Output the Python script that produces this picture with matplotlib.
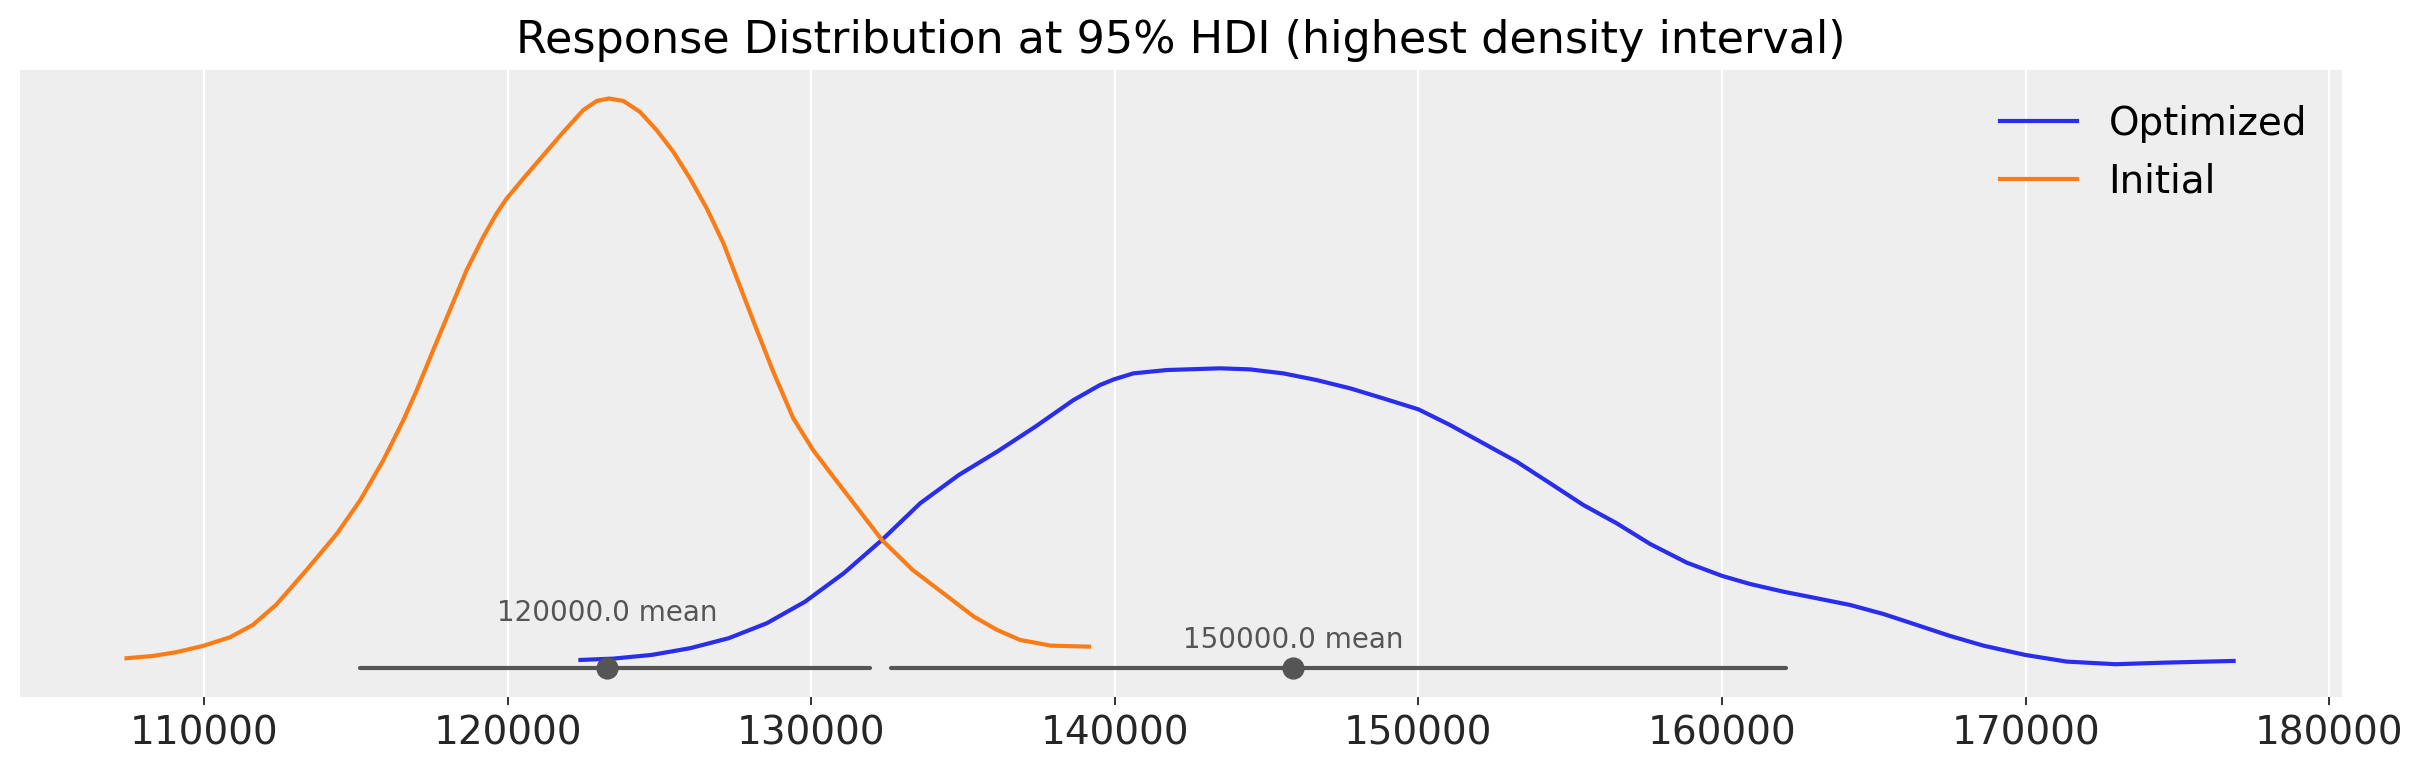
import numpy as np
import matplotlib
matplotlib.use("Agg")
import matplotlib.pyplot as plt

# density curves (x = response, y = density x1e-6)
optimized_x = [122400, 123490, 124750, 126010, 127280, 128540, 129800, 131070,
               132330, 133590, 134860, 136120, 137380, 138640, 139510, 139970,
               140610, 141710, 143470, 144450, 145550, 146650, 147750, 148840,
               150000, 151040, 152140, 153240, 154340, 155430, 156530, 157630,
               158840, 160010, 160920, 162020, 163120, 164220, 165310, 166410,
               167510, 168610, 169980, 171350, 172970, 174630, 176850]
optimized_y = [1.16, 1.35, 1.87, 2.81, 4.21, 6.32, 9.35, 13.33,
               18.01, 23.16, 27.13, 30.40, 33.91, 37.66, 39.76, 40.56,
               41.40, 41.87, 42.11, 41.96, 41.40, 40.46, 39.30, 37.89,
               36.35, 34.15, 31.58, 29.00, 25.96, 22.92, 20.35, 17.45,
               14.82, 12.95, 11.83, 10.75, 9.82, 8.88, 7.62, 6.08,
               4.53, 3.17, 1.87, 0.93, 0.56, 0.79, 1.02]

initial_x = [107450, 108330, 109090, 109970, 110860, 111610, 112370, 113380,
             114390, 115150, 115910, 116570, 117010, 117550, 118100, 118650,
             119200, 119640, 119970, 120520, 121180, 121840, 122490, 122940,
             123340, 123810, 124360, 124910, 125460, 126010, 126560, 127110,
             127660, 128210, 128750, 129410, 130060, 130810, 131570, 132330,
             133340, 134350, 135360, 136120, 136880, 137890, 139150]
initial_y = [1.40, 1.73, 2.25, 3.13, 4.35, 6.08, 8.88, 13.80,
             18.95, 23.62, 29.23, 34.85, 39.06, 44.67, 50.29, 55.90,
             60.57, 63.86, 65.96, 68.77, 72.04, 75.31, 78.36, 79.66,
             80.00, 79.66, 78.12, 75.55, 72.50, 68.77, 64.56, 59.65,
             53.56, 47.48, 41.63, 35.09, 30.64, 26.43, 22.22, 18.01,
             13.80, 10.53, 7.24, 5.38, 3.97, 3.17, 3.03]

# 95% HDI bounds, mean markers and their labels
hdi_low = [115140, 132630]
hdi_high = [131950, 162110]
means = [123280, 145880]
mean_labels = ["120000.0 mean", "150000.0 mean"]
label_y = [6.68, 2.89]

series_names = ["Optimized", "Initial"]
series_colors = ["#2a2eec", "#fa7c17"]

fig = plt.figure(figsize=(2423 / 200, 773 / 200), dpi=200)
ax = fig.add_axes([20 / 2423, 1 - 696.7 / 773, 2322 / 2423, 626.7 / 773])
ax.set_facecolor("#eeeeee")
for s in ax.spines.values():
    s.set_visible(False)

ax.plot(optimized_x, optimized_y, color=series_colors[0], lw=1.5, label=series_names[0])
ax.plot(initial_x, initial_y, color=series_colors[1], lw=1.5, label=series_names[1])

for lo, hi, m, txt, ty in zip(hdi_low, hdi_high, means, mean_labels, label_y):
    ax.plot([lo, hi], [0, 0], color="#555555", lw=1.5, solid_capstyle="round", zorder=3)
    ax.plot(m, 0, "o", color="#555555", ms=7, zorder=4)
    ax.text(m, ty, txt, ha="center", va="baseline", fontsize=10, color="#555555")

ax.set_xlim(103940, 180420)
ax.set_ylim(-4.0, 84.0)
ax.set_xticks(np.arange(110000, 180001, 10000))
ax.set_yticks([])
ax.grid(axis="x", color="white", lw=0.8)
ax.set_axisbelow(True)
ax.tick_params(axis="x", labelsize=14, length=3, width=0.7, color="#333333",
               labelcolor="#262626")

ax.set_title("Response Distribution at 95% HDI (highest density interval)",
             fontsize=16, pad=6)
ax.legend(loc="upper right", fontsize=14, frameon=False)

fig.savefig("out.png", dpi=200)
